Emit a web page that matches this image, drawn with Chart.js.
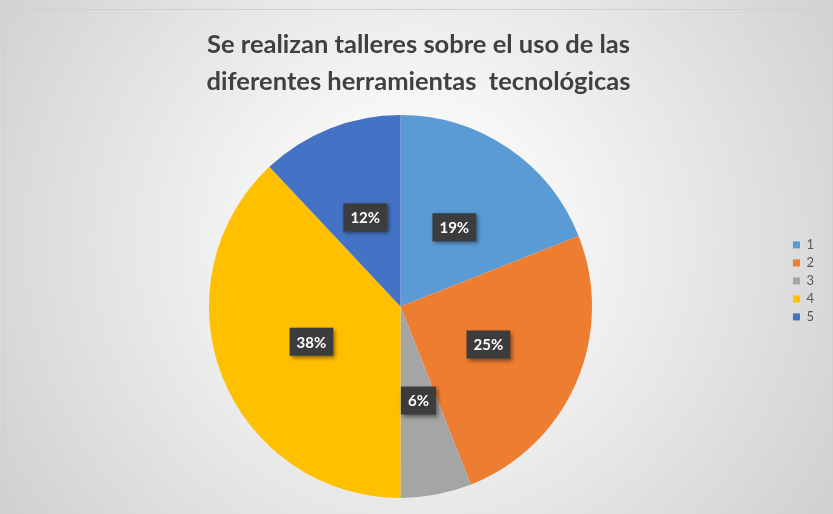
<!DOCTYPE html>
<html>
<head>
<meta charset="utf-8">
<script src="https://cdn.jsdelivr.net/npm/chart.js@4"></script>
<style>
  html, body { margin: 0; padding: 0; background: #fff; }
  #wrap { width: 833px; height: 514px; }
</style>
</head>
<body>
<div id="wrap"><canvas id="chartPie" width="833" height="514"></canvas></div>
<script>
// Pie data
const categories = ["1", "2", "3", "4", "5"];
const percents = [19, 25, 6, 38, 12];
const sliceColors = ["#5B9BD5", "#ED7D31", "#A5A5A5", "#FFC000", "#4472C4"];
const titleLines = [
  "Se realizan talleres sobre el uso de las",
  "diferentes herramientas  tecnológicas"
];

// gray radial background like the Excel chart area
const bgPlugin = {
  id: "bg",
  beforeDraw(chart) {
    const ctx = chart.ctx;
    const w = chart.width, h = chart.height;
    const g = ctx.createRadialGradient(415, 240, 0, 415, 240, 560);
    g.addColorStop(0, "#ffffff");
    g.addColorStop(0.25, "#f6f6f6");
    g.addColorStop(1, "#c9c9c9");
    ctx.save();
    ctx.fillStyle = g;
    ctx.fillRect(0, 0, w, h);
    ctx.strokeStyle = "#d0d0d0";
    ctx.strokeRect(3.5, 9.5, w - 4, h - 9);
    ctx.restore();
  }
};

// dark callout boxes with percent text
const labelPlugin = {
  id: "pctLabels",
  afterDatasetsDraw(chart) {
    const ctx = chart.ctx;
    const meta = chart.getDatasetMeta(0);
    ctx.save();
    ctx.font = "bold 15px Lato";
    ctx.textAlign = "center";
    ctx.textBaseline = "middle";
    meta.data.forEach((arc, i) => {
      const p = arc.getCenterPoint();
      const txt = percents[i] + "%";
      const bw = ctx.measureText(txt).width + 14;
      const bh = 28;
      ctx.shadowColor = "rgba(0,0,0,0.45)";
      ctx.shadowBlur = 4;
      ctx.shadowOffsetX = 2;
      ctx.shadowOffsetY = 2;
      ctx.fillStyle = "#3c3c3c";
      ctx.fillRect(p.x - bw / 2, p.y - bh / 2, bw, bh);
      ctx.shadowColor = "transparent";
      ctx.fillStyle = "#ffffff";
      ctx.fillText(txt, p.x, p.y + 1);
    });
    ctx.restore();
  }
};

const dataPie = {
  labels: categories,
  datasets: [
    {
      data: percents,
      backgroundColor: sliceColors,
      borderWidth: 0,
    },
  ],
};

const configPie = {
  type: "pie",
  data: dataPie,
  options: {
    responsive: false,
    animation: false,
    layout: { padding: { left: 13, right: 9, bottom: 16 } },
    plugins: {
      title: {
        display: true,
        text: titleLines,
        color: "#404040",
        font: { family: "Lato", size: 25.5, weight: "bold", lineHeight: 1.45 },
        padding: { top: 26, bottom: 15 },
      },
      legend: {
        position: "right",
        align: "start",
        // empty title only used as a spacer to push the items down
        title: { display: true, text: " ", padding: { top: 219, bottom: 0 } },
        labels: {
          boxWidth: 7,
          boxHeight: 7,
          padding: 5,
          color: "#595959",
          font: { family: "Lato", size: 13 },
        },
      },
      tooltip: { enabled: false },
    },
  },
  plugins: [bgPlugin, labelPlugin],
};

var chartPie = new Chart(
  document.getElementById("chartPie"),
  configPie
);
</script>
</body>
</html>
